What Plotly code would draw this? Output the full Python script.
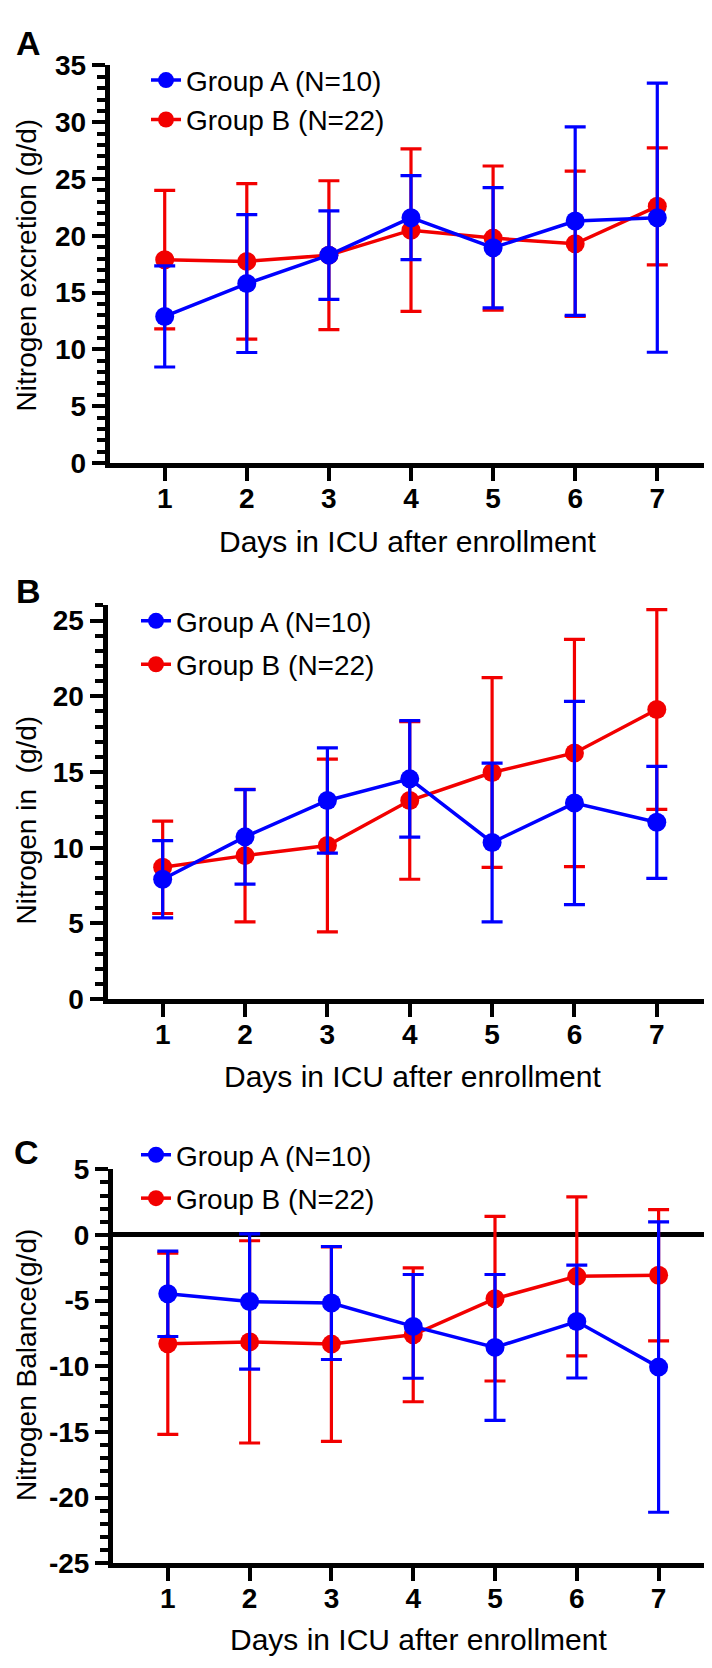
import plotly.graph_objects as go

# ---------------- data ----------------
days = [1, 2, 3, 4, 5, 6, 7]
day_labels = ["1", "2", "3", "4", "5", "6", "7"]

# Panel A: Nitrogen excretion (g/d), mean and SD
excr_a_mean = [12.9, 15.8, 18.3, 21.6, 18.95, 21.3, 21.6]
excr_a_sd = [4.45, 6.07, 3.9, 3.7, 5.3, 8.3, 11.85]
excr_b_mean = [17.9, 17.75, 18.3, 20.5, 19.8, 19.3, 22.6]
excr_b_sd = [6.1, 6.85, 6.55, 7.15, 6.35, 6.4, 5.15]

# Panel B: Nitrogen in (g/d)
nin_a_mean = [7.92, 10.72, 13.12, 14.55, 10.35, 12.95, 11.68]
nin_a_sd = [2.55, 3.12, 3.48, 3.85, 5.24, 6.71, 3.7]
nin_b_mean = [8.71, 9.48, 10.15, 13.12, 14.97, 16.26, 19.13]
nin_b_sd = [3.05, 4.37, 5.7, 5.2, 6.27, 7.5, 6.6]

# Panel C: Nitrogen balance (g/d)
bal_a_mean = [-4.48, -5.07, -5.18, -6.96, -8.56, -6.59, -10.06]
bal_a_sd = [3.25, 5.15, 4.3, 3.95, 5.55, 4.3, 11.05]
bal_b_mean = [-8.28, -8.14, -8.31, -7.6, -4.85, -3.15, -3.07]
bal_b_sd = [6.9, 7.7, 7.4, 5.1, 6.27, 6.05, 5.0]

name_a = "Group A (N=10)"
name_b = "Group B (N=22)"

yticks_a = [0, 5, 10, 15, 20, 25, 30, 35]
yticks_a_text = ["0", "5", "10", "15", "20", "25", "30", "35"]
yticks_b = [0, 5, 10, 15, 20, 25]
yticks_b_text = ["0", "5", "10", "15", "20", "25"]
yticks_c = [-25, -20, -15, -10, -5, 0, 5]
yticks_c_text = ["-25", "-20", "-15", "-10", "-5", "0", "5"]

# ---------------- layout helpers ----------------
W, H = 712, 1668
BLUE = "#0000FF"
RED = "#F20000"
FONT = "Liberation Sans, Arial, sans-serif"


def fx(px):
    return px / W


def fy(py):
    return 1 - py / H


fig = go.Figure()

panels = [
    ("", "legend", excr_a_mean, excr_a_sd, excr_b_mean, excr_b_sd),
    ("2", "legend2", nin_a_mean, nin_a_sd, nin_b_mean, nin_b_sd),
    ("3", "legend3", bal_a_mean, bal_a_sd, bal_b_mean, bal_b_sd),
]

for suf, leg, am, asd, bm, bsd in panels:
    for nm, mean, sd, col, rank in [(name_b, bm, bsd, RED, 2), (name_a, am, asd, BLUE, 1)]:
        fig.add_trace(go.Scatter(
            x=days, y=mean, name=nm, mode="lines+markers",
            xaxis="x" + suf, yaxis="y" + suf, legend=leg, legendrank=rank,
            legendgroup=leg + nm,
            line=dict(color=col, width=3.5),
            marker=dict(color=col, size=19, symbol="circle"),
            error_y=dict(type="data", array=sd, visible=True, color=col,
                         thickness=3.2, width=10.5),
        ))

axis_common = dict(
    showline=True, linecolor="black", linewidth=5, mirror=False,
    ticks="outside", ticklen=13, tickwidth=4, tickcolor="black",
    showgrid=False, zeroline=False, layer="above traces",
    tickfont=dict(family=FONT, size=28, color="black", weight="bold"),
)

# pixel geometry of panels: (x_left, x_right, y_top, y_bottom)
geo = {
    "": (101.7, 708.4, 43.3, 448.3),
    "2": (99.5, 708.1, 592.7, 994.7),
    "3": (105.0, 709.5, 1168.0, 1569.5),
}
yranges = {"": [0, 35], "2": [0, 26.05], "3": [-25, 5]}
yt = {"": (yticks_a, yticks_a_text), "2": (yticks_b, yticks_b_text),
      "3": (yticks_c, yticks_c_text)}

layout = dict(
    width=W, height=H, margin=dict(l=0, r=0, t=0, b=0),
    paper_bgcolor="white", plot_bgcolor="white", showlegend=True,
)

for suf, (xl, xr, yt_, yb) in geo.items():
    xa = dict(axis_common)
    xa.update(domain=[fx(xl), fx(xr)], range=[0.33, 7.72], anchor="y" + suf,
              tickvals=days, ticktext=day_labels, ticklabelstandoff=-7)
    ya = dict(axis_common)
    ya.update(domain=[fy(yb), fy(yt_)], range=yranges[suf], anchor="x" + suf,
              tickvals=yt[suf][0], ticktext=yt[suf][1],
              minor=dict(dtick=1, ticks="outside", ticklen=8, tickwidth=4,
                         tickcolor="black", showgrid=False))
    if suf == "3":
        ya.update(zeroline=True, zerolinecolor="black", zerolinewidth=5)
    layout["xaxis" + suf] = xa
    layout["yaxis" + suf] = ya

leg_common = dict(
    xanchor="left", yanchor="top", bgcolor="rgba(0,0,0,0)", borderwidth=0,
    font=dict(family=FONT, size=28, color="black"), traceorder="grouped",
    itemsizing="trace",
)
layout["legend"] = dict(leg_common, x=fx(138), y=fy(33), tracegroupgap=0)
layout["legend2"] = dict(leg_common, x=fx(128), y=fy(584), tracegroupgap=4)
layout["legend3"] = dict(leg_common, x=fx(128), y=fy(1128), tracegroupgap=4)

fig.update_layout(**layout)

annotations = []
for letter, (cx, cy) in [("A", (20, 20)), ("B", (20, 579)), ("C", (18, 1150))]:
    annotations.append(dict(text=letter, x=fx(cx), y=fy(cy), xref="paper", yref="paper",
                            showarrow=False, xanchor="center", yanchor="middle",
                            font=dict(family=FONT, size=34, color="black", weight="bold")))
for txt, cy in [("Nitrogen excretion (g/d)", 246.5), ("Nitrogen in\u00a0\u00a0(g/d)", 812),
                ("Nitrogen Balance(g/d)", 1368)]:
    annotations.append(dict(text=txt, x=fx(1), y=fy(cy), xref="paper", yref="paper",
                            showarrow=False, xanchor="left", yanchor="middle", textangle=-90,
                            font=dict(family=FONT, size=28, color="black")))
for cx, cy in [(399.5, 528), (404, 1073), (410, 1647)]:
    annotations.append(dict(text="Days in ICU after enrollment", x=fx(cx), y=fy(cy),
                            xref="paper", yref="paper", showarrow=False,
                            xanchor="center", yanchor="middle",
                            font=dict(family=FONT, size=30, color="black")))
fig.update_layout(annotations=annotations)

fig.write_html("out.html")
